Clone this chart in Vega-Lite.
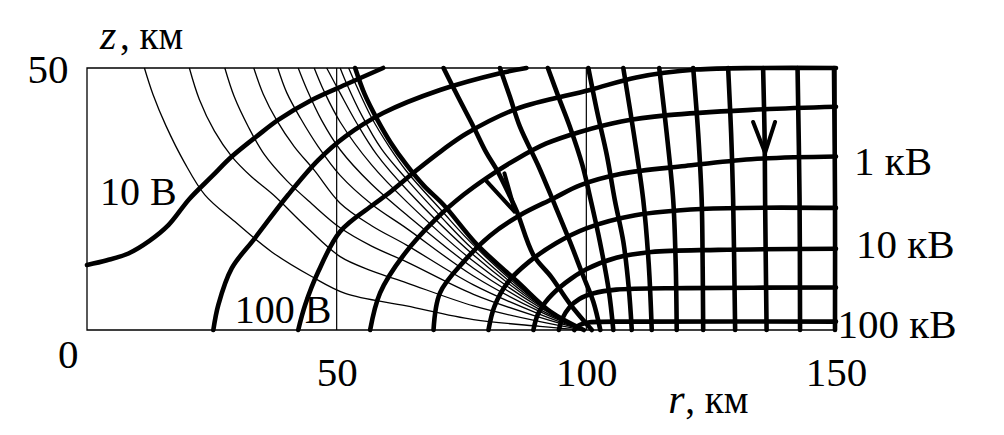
{
"$schema":"https://vega.github.io/schema/vega-lite/v6.json",
"width":749,"height":262,
"autosize":"none",
"padding":{"left":87,"top":68,"right":168,"bottom":105},
"background":"white",
"config":{"view":{"stroke":null},"axis":{"grid":false}},
"datasets":{
"L":[
{"id":"A1","k":"thin","i":1,"r":11.5,"z":50},{"id":"A1","k":"thin","i":2,"r":13.2,"z":45},{"id":"A1","k":"thin","i":3,"r":15.8,"z":39},{"id":"A1","k":"thin","i":4,"r":19.5,"z":32},{"id":"A1","k":"thin","i":5,"r":23.6,"z":25.8},{"id":"A1","k":"thin","i":6,"r":29.6,"z":20.7},{"id":"A1","k":"thin","i":7,"r":37,"z":14.9},{"id":"A1","k":"thin","i":8,"r":45,"z":10.2},{"id":"A1","k":"thin","i":9,"r":51.7,"z":7.0},{"id":"A1","k":"thin","i":10,"r":64,"z":4.6},{"id":"A1","k":"thin","i":11,"r":77.4,"z":2.0},{"id":"A1","k":"thin","i":12,"r":90.7,"z":0.7},{"id":"A1","k":"thin","i":13,"r":99.5,"z":0},
{"id":"A2","k":"thin","i":1,"r":20.5,"z":50},{"id":"A2","k":"thin","i":2,"r":22.5,"z":44},{"id":"A2","k":"thin","i":3,"r":25.5,"z":38},{"id":"A2","k":"thin","i":4,"r":29,"z":33.1},{"id":"A2","k":"thin","i":5,"r":33,"z":29.2},{"id":"A2","k":"thin","i":6,"r":37.3,"z":25.8},{"id":"A2","k":"thin","i":7,"r":44,"z":19.6},{"id":"A2","k":"thin","i":8,"r":50.7,"z":14.0},{"id":"A2","k":"thin","i":9,"r":57,"z":11.3},{"id":"A2","k":"thin","i":10,"r":64,"z":9.0},{"id":"A2","k":"thin","i":11,"r":77.4,"z":4.6},{"id":"A2","k":"thin","i":12,"r":90.7,"z":1.6},{"id":"A2","k":"thin","i":13,"r":99.5,"z":0},
{"id":"A3","k":"thin","i":1,"r":27.6,"z":50},{"id":"A3","k":"thin","i":2,"r":29.5,"z":44.5},{"id":"A3","k":"thin","i":3,"r":32.3,"z":38.8},{"id":"A3","k":"thin","i":4,"r":35.5,"z":33.5},{"id":"A3","k":"thin","i":5,"r":40,"z":28.5},{"id":"A3","k":"thin","i":6,"r":45,"z":24.1},{"id":"A3","k":"thin","i":7,"r":50.7,"z":19.5},{"id":"A3","k":"thin","i":8,"r":57,"z":16.0},{"id":"A3","k":"thin","i":9,"r":64,"z":13.0},{"id":"A3","k":"thin","i":10,"r":77.4,"z":6.8},{"id":"A3","k":"thin","i":11,"r":90.7,"z":2.4},{"id":"A3","k":"thin","i":12,"r":99.5,"z":0},
{"id":"A4","k":"thin","i":1,"r":33.4,"z":50},{"id":"A4","k":"thin","i":2,"r":35.3,"z":45},{"id":"A4","k":"thin","i":3,"r":38,"z":40},{"id":"A4","k":"thin","i":4,"r":41.5,"z":35},{"id":"A4","k":"thin","i":5,"r":45.5,"z":30.5},{"id":"A4","k":"thin","i":6,"r":50.7,"z":24.2},{"id":"A4","k":"thin","i":7,"r":57,"z":19.9},{"id":"A4","k":"thin","i":8,"r":64,"z":16.2},{"id":"A4","k":"thin","i":9,"r":77.4,"z":8.6},{"id":"A4","k":"thin","i":10,"r":90.7,"z":3.0},{"id":"A4","k":"thin","i":11,"r":99.5,"z":0},
{"id":"A5","k":"thin","i":1,"r":38.2,"z":50},{"id":"A5","k":"thin","i":2,"r":40,"z":45.3},{"id":"A5","k":"thin","i":3,"r":42.7,"z":40.5},{"id":"A5","k":"thin","i":4,"r":46.3,"z":35},{"id":"A5","k":"thin","i":5,"r":50.7,"z":29.5},{"id":"A5","k":"thin","i":6,"r":57,"z":24},{"id":"A5","k":"thin","i":7,"r":64,"z":19.4},{"id":"A5","k":"thin","i":8,"r":77.4,"z":10.3},{"id":"A5","k":"thin","i":9,"r":90.7,"z":3.5},{"id":"A5","k":"thin","i":10,"r":99.5,"z":0},
{"id":"A6","k":"thin","i":1,"r":42.3,"z":50},{"id":"A6","k":"thin","i":2,"r":44,"z":46},{"id":"A6","k":"thin","i":3,"r":47,"z":40},{"id":"A6","k":"thin","i":4,"r":50.7,"z":34.4},{"id":"A6","k":"thin","i":5,"r":57,"z":27.8},{"id":"A6","k":"thin","i":6,"r":64,"z":22.0},{"id":"A6","k":"thin","i":7,"r":77.4,"z":11.8},{"id":"A6","k":"thin","i":8,"r":90.7,"z":3.9},{"id":"A6","k":"thin","i":9,"r":99.5,"z":0},
{"id":"A7","k":"thin","i":1,"r":45.5,"z":50},{"id":"A7","k":"thin","i":2,"r":47.5,"z":45.5},{"id":"A7","k":"thin","i":3,"r":50.7,"z":39.7},{"id":"A7","k":"thin","i":4,"r":57,"z":31.5},{"id":"A7","k":"thin","i":5,"r":64,"z":24.5},{"id":"A7","k":"thin","i":6,"r":77.4,"z":13.1},{"id":"A7","k":"thin","i":7,"r":90.7,"z":4.3},{"id":"A7","k":"thin","i":8,"r":99.5,"z":0},
{"id":"A8","k":"thin","i":1,"r":48.0,"z":50},{"id":"A8","k":"thin","i":2,"r":50.7,"z":45.2},{"id":"A8","k":"thin","i":3,"r":54,"z":39.5},{"id":"A8","k":"thin","i":4,"r":58,"z":33.5},{"id":"A8","k":"thin","i":5,"r":64,"z":26.8},{"id":"A8","k":"thin","i":6,"r":77.4,"z":14.3},{"id":"A8","k":"thin","i":7,"r":90.7,"z":4.6},{"id":"A8","k":"thin","i":8,"r":99.5,"z":0},
{"id":"A9","k":"thin","i":1,"r":50.7,"z":50},{"id":"A9","k":"thin","i":2,"r":52,"z":47},{"id":"A9","k":"thin","i":3,"r":55,"z":41},{"id":"A9","k":"thin","i":4,"r":59,"z":34.5},{"id":"A9","k":"thin","i":5,"r":64,"z":28.8},{"id":"A9","k":"thin","i":6,"r":71,"z":21.5},{"id":"A9","k":"thin","i":7,"r":77.4,"z":15.3},{"id":"A9","k":"thin","i":8,"r":90.7,"z":4.85},{"id":"A9","k":"thin","i":9,"r":99.5,"z":0},
{"id":"A10","k":"thin","i":1,"r":52.4,"z":50},{"id":"A10","k":"thin","i":2,"r":54,"z":46.5},{"id":"A10","k":"thin","i":3,"r":57,"z":40.5},{"id":"A10","k":"thin","i":4,"r":60.5,"z":35},{"id":"A10","k":"thin","i":5,"r":64,"z":30.3},{"id":"A10","k":"thin","i":6,"r":71,"z":22.8},{"id":"A10","k":"thin","i":7,"r":77.4,"z":16.2},{"id":"A10","k":"thin","i":8,"r":90.7,"z":5.05},{"id":"A10","k":"thin","i":9,"r":99.5,"z":0},
{"id":"S","k":"thick","i":1,"r":53.7,"z":50},{"id":"S","k":"thick","i":2,"r":55.6,"z":45},{"id":"S","k":"thick","i":3,"r":58.0,"z":40.4},{"id":"S","k":"thick","i":4,"r":60.8,"z":35.8},{"id":"S","k":"thick","i":5,"r":64.0,"z":31.5},{"id":"S","k":"thick","i":6,"r":67.5,"z":27.5},{"id":"S","k":"thick","i":7,"r":71.4,"z":23.9},{"id":"S","k":"thick","i":8,"r":78.1,"z":16.3},{"id":"S","k":"thick","i":9,"r":86.1,"z":9.3},{"id":"S","k":"thick","i":10,"r":92.8,"z":3.5},{"id":"S","k":"thick","i":11,"r":99.5,"z":0},
{"id":"E0","k":"thick","i":1,"r":0,"z":12.4},{"id":"E0","k":"thick","i":2,"r":4,"z":13.3},{"id":"E0","k":"thick","i":3,"r":8.3,"z":14.6},{"id":"E0","k":"thick","i":4,"r":12.5,"z":17},{"id":"E0","k":"thick","i":5,"r":16.3,"z":20},{"id":"E0","k":"thick","i":6,"r":20.5,"z":25},{"id":"E0","k":"thick","i":7,"r":25,"z":29.3},{"id":"E0","k":"thick","i":8,"r":29,"z":33.1},{"id":"E0","k":"thick","i":9,"r":34.3,"z":37.2},{"id":"E0","k":"thick","i":10,"r":38.3,"z":40.1},{"id":"E0","k":"thick","i":11,"r":45,"z":43.9},{"id":"E0","k":"thick","i":12,"r":51.7,"z":46.8},{"id":"E0","k":"thick","i":13,"r":59.3,"z":50},
{"id":"E1","k":"thick","i":1,"r":25.3,"z":0},{"id":"E1","k":"thick","i":2,"r":26.3,"z":4.8},{"id":"E1","k":"thick","i":3,"r":29,"z":11.8},{"id":"E1","k":"thick","i":4,"r":33.6,"z":17.5},{"id":"E1","k":"thick","i":5,"r":40.3,"z":25.8},{"id":"E1","k":"thick","i":6,"r":46.3,"z":32.4},{"id":"E1","k":"thick","i":7,"r":51.7,"z":36.9},{"id":"E1","k":"thick","i":8,"r":59.3,"z":41.4},{"id":"E1","k":"thick","i":9,"r":70.7,"z":45.8},{"id":"E1","k":"thick","i":10,"r":82.7,"z":49},{"id":"E1","k":"thick","i":11,"r":88,"z":50},
{"id":"E2","k":"thick","i":1,"r":42.3,"z":0},{"id":"E2","k":"thick","i":2,"r":43.7,"z":4.8},{"id":"E2","k":"thick","i":3,"r":46.3,"z":11.1},{"id":"E2","k":"thick","i":4,"r":50.7,"z":18.8},{"id":"E2","k":"thick","i":5,"r":57.3,"z":23.9},{"id":"E2","k":"thick","i":6,"r":60,"z":25.8},{"id":"E2","k":"thick","i":7,"r":66,"z":30.5},{"id":"E2","k":"thick","i":8,"r":71,"z":34.2},{"id":"E2","k":"thick","i":9,"r":76,"z":37.5},{"id":"E2","k":"thick","i":10,"r":86,"z":42.2},{"id":"E2","k":"thick","i":11,"r":100.7,"z":45.8},{"id":"E2","k":"thick","i":12,"r":110,"z":48.2},{"id":"E2","k":"thick","i":13,"r":122,"z":49.7},{"id":"E2","k":"thick","i":14,"r":135,"z":50},{"id":"E2","k":"thick","i":15,"r":150,"z":50},
{"id":"E3","k":"thick","i":1,"r":56.7,"z":0},{"id":"E3","k":"thick","i":2,"r":58.7,"z":7.1},{"id":"E3","k":"thick","i":3,"r":63.4,"z":14.3},{"id":"E3","k":"thick","i":4,"r":70,"z":21.3},{"id":"E3","k":"thick","i":5,"r":75.4,"z":25.8},{"id":"E3","k":"thick","i":6,"r":80,"z":29},{"id":"E3","k":"thick","i":7,"r":86,"z":32.6},{"id":"E3","k":"thick","i":8,"r":92,"z":35.6},{"id":"E3","k":"thick","i":9,"r":98.7,"z":37.8},{"id":"E3","k":"thick","i":10,"r":107,"z":39.8},{"id":"E3","k":"thick","i":11,"r":116.4,"z":41},{"id":"E3","k":"thick","i":12,"r":133,"z":42},{"id":"E3","k":"thick","i":13,"r":150,"z":42.6},
{"id":"E4","k":"thick","i":1,"r":69.4,"z":0},{"id":"E4","k":"thick","i":2,"r":70.7,"z":7.1},{"id":"E4","k":"thick","i":3,"r":75.4,"z":13.0},{"id":"E4","k":"thick","i":4,"r":80.7,"z":18.0},{"id":"E4","k":"thick","i":5,"r":86.7,"z":21.9},{"id":"E4","k":"thick","i":6,"r":93.4,"z":25.1},{"id":"E4","k":"thick","i":7,"r":98.7,"z":27.6},{"id":"E4","k":"thick","i":8,"r":107,"z":29.8},{"id":"E4","k":"thick","i":9,"r":119.8,"z":31.3},{"id":"E4","k":"thick","i":10,"r":133,"z":32.6},{"id":"E4","k":"thick","i":11,"r":150,"z":33.1},
{"id":"E5","k":"thick","i":1,"r":80.4,"z":0},{"id":"E5","k":"thick","i":2,"r":81.6,"z":4.5},{"id":"E5","k":"thick","i":3,"r":84.2,"z":9.0},{"id":"E5","k":"thick","i":4,"r":88.5,"z":13.0},{"id":"E5","k":"thick","i":5,"r":94,"z":16.6},{"id":"E5","k":"thick","i":6,"r":100,"z":19.4},{"id":"E5","k":"thick","i":7,"r":109.8,"z":21.9},{"id":"E5","k":"thick","i":8,"r":123,"z":23.1},{"id":"E5","k":"thick","i":9,"r":150,"z":23.3},
{"id":"E6","k":"thick","i":1,"r":89.4,"z":0},{"id":"E6","k":"thick","i":2,"r":90.3,"z":3.0},{"id":"E6","k":"thick","i":3,"r":92.4,"z":6.0},{"id":"E6","k":"thick","i":4,"r":95.8,"z":9.0},{"id":"E6","k":"thick","i":5,"r":100,"z":11.6},{"id":"E6","k":"thick","i":6,"r":106,"z":13.8},{"id":"E6","k":"thick","i":7,"r":113,"z":14.9},{"id":"E6","k":"thick","i":8,"r":126.4,"z":15.3},{"id":"E6","k":"thick","i":9,"r":150,"z":15.5},
{"id":"E7","k":"thick","i":1,"r":94.5,"z":0},{"id":"E7","k":"thick","i":2,"r":95.2,"z":2.2},{"id":"E7","k":"thick","i":3,"r":96.6,"z":4.3},{"id":"E7","k":"thick","i":4,"r":98.6,"z":5.9},{"id":"E7","k":"thick","i":5,"r":101.5,"z":7.0},{"id":"E7","k":"thick","i":6,"r":106,"z":7.7},{"id":"E7","k":"thick","i":7,"r":120,"z":8.0},{"id":"E7","k":"thick","i":8,"r":150,"z":8.1},
{"id":"E8","k":"thick","i":1,"r":97.6,"z":0},{"id":"E8","k":"thick","i":2,"r":98.2,"z":0.7},{"id":"E8","k":"thick","i":3,"r":99.3,"z":1.2},{"id":"E8","k":"thick","i":4,"r":101,"z":1.5},{"id":"E8","k":"thick","i":5,"r":110,"z":1.6},{"id":"E8","k":"thick","i":6,"r":150,"z":1.6},
{"id":"F1","k":"thick","i":1,"r":71.4,"z":50},{"id":"F1","k":"thick","i":2,"r":74.3,"z":44.5},{"id":"F1","k":"thick","i":3,"r":77.4,"z":38.8},{"id":"F1","k":"thick","i":4,"r":80,"z":33.8},{"id":"F1","k":"thick","i":5,"r":82.1,"z":30.5},{"id":"F1","k":"thick","i":6,"r":84.7,"z":25.5},{"id":"F1","k":"thick","i":7,"r":86.1,"z":22.6},{"id":"F1","k":"thick","i":8,"r":89.4,"z":14.3},{"id":"F1","k":"thick","i":9,"r":93,"z":10.1},{"id":"F1","k":"thick","i":10,"r":96.7,"z":5.0},{"id":"F1","k":"thick","i":11,"r":101.1,"z":0},
{"id":"F2","k":"thick","i":1,"r":82.7,"z":50},{"id":"F2","k":"thick","i":2,"r":84.7,"z":44.5},{"id":"F2","k":"thick","i":3,"r":86.7,"z":38.8},{"id":"F2","k":"thick","i":4,"r":90.4,"z":31.3},{"id":"F2","k":"thick","i":5,"r":93.5,"z":24.3},{"id":"F2","k":"thick","i":6,"r":96.7,"z":16.9},{"id":"F2","k":"thick","i":7,"r":99.3,"z":10.5},{"id":"F2","k":"thick","i":8,"r":101.4,"z":5.4},{"id":"F2","k":"thick","i":9,"r":102.8,"z":0},
{"id":"F3","k":"thick","i":1,"r":92.3,"z":50},{"id":"F3","k":"thick","i":2,"r":94.5,"z":44.3},{"id":"F3","k":"thick","i":3,"r":96.7,"z":38.8},{"id":"F3","k":"thick","i":4,"r":99.2,"z":31.5},{"id":"F3","k":"thick","i":5,"r":101,"z":24.3},{"id":"F3","k":"thick","i":6,"r":102.7,"z":16.9},{"id":"F3","k":"thick","i":7,"r":104.5,"z":7.5},{"id":"F3","k":"thick","i":8,"r":105.4,"z":0},
{"id":"F4","k":"thick","i":1,"r":100.4,"z":50},{"id":"F4","k":"thick","i":2,"r":102.2,"z":41.5},{"id":"F4","k":"thick","i":3,"r":104.1,"z":33.4},{"id":"F4","k":"thick","i":4,"r":105.7,"z":24.8},{"id":"F4","k":"thick","i":5,"r":107.4,"z":16.9},{"id":"F4","k":"thick","i":6,"r":108.5,"z":8},{"id":"F4","k":"thick","i":7,"r":109.1,"z":0},
{"id":"F5","k":"thick","i":1,"r":107.4,"z":50},{"id":"F5","k":"thick","i":2,"r":109.5,"z":37.5},{"id":"F5","k":"thick","i":3,"r":111.4,"z":24.8},{"id":"F5","k":"thick","i":4,"r":112.5,"z":12.5},{"id":"F5","k":"thick","i":5,"r":113.1,"z":0},
{"id":"F6","k":"thick","i":1,"r":114.6,"z":50},{"id":"F6","k":"thick","i":2,"r":116.1,"z":37.5},{"id":"F6","k":"thick","i":3,"r":117.4,"z":24.8},{"id":"F6","k":"thick","i":4,"r":117.9,"z":12.5},{"id":"F6","k":"thick","i":5,"r":118.1,"z":0},
{"id":"F7","k":"thick","i":1,"r":121.4,"z":50},{"id":"F7","k":"thick","i":2,"r":122.4,"z":37.5},{"id":"F7","k":"thick","i":3,"r":123.1,"z":24.8},{"id":"F7","k":"thick","i":4,"r":123.3,"z":12},{"id":"F7","k":"thick","i":5,"r":123.4,"z":0},
{"id":"F8","k":"thick","i":1,"r":128.4,"z":50},{"id":"F8","k":"thick","i":2,"r":129,"z":37.5},{"id":"F8","k":"thick","i":3,"r":129.4,"z":24.8},{"id":"F8","k":"thick","i":4,"r":129.8,"z":0},
{"id":"F9","k":"thick","i":1,"r":135.4,"z":50},{"id":"F9","k":"thick","i":2,"r":135.7,"z":37},{"id":"F9","k":"thick","i":3,"r":135.8,"z":24.8},{"id":"F9","k":"thick","i":4,"r":136.1,"z":0},
{"id":"F10","k":"thick","i":1,"r":142.3,"z":50},{"id":"F10","k":"thick","i":2,"r":142.7,"z":25},{"id":"F10","k":"thick","i":3,"r":142.8,"z":0},
{"id":"F11","k":"thick","i":1,"r":149.6,"z":50},{"id":"F11","k":"thick","i":2,"r":149.8,"z":25},{"id":"F11","k":"thick","i":3,"r":149.8,"z":0},
{"id":"R1","k":"arrow","i":1,"r":80.1,"z":28.3},{"id":"R1","k":"arrow","i":2,"r":85.8,"z":22.4},{"id":"R1","k":"arrow","i":3,"r":83.6,"z":29.9},
{"id":"R2","k":"arrow","i":1,"r":133.4,"z":39.7},{"id":"R2","k":"arrow","i":2,"r":135.8,"z":33.8},{"id":"R2","k":"arrow","i":3,"r":137.8,"z":39.7}
],
"T":[
{"g":"lab","t":"10 В","r":2.6,"z":23.9},
{"g":"lab","t":"100 В","r":29.6,"z":1.3},
{"g":"side","t":"1 кВ","r":153.6,"z":29.6},
{"g":"side","t":"10 кВ","r":154.0,"z":13.7},
{"g":"side","t":"100 кВ","r":150.3,"z":-1.5},
{"g":"var","t":"z","r":2.6,"z":53.6},
{"g":"unit","t":", км","r":6.6,"z":53.6},
{"g":"var","t":"r","r":116.4,"z":-15.8},
{"g":"unit","t":", км","r":119.8,"z":-15.8}
]
},
"encoding":{
"x":{"field":"r","type":"quantitative","scale":{"domain":[0,150],"nice":false,"zero":false},
"axis":{"values":[50,100,150],"domain":false,"ticks":false,"grid":false,"title":null,"labelFont":"Liberation Serif","labelFontSize":41,"labelColor":"black","labelPadding":23,"labelFlush":false,"labelOverlap":false}},
"y":{"field":"z","type":"quantitative","scale":{"domain":[0,50],"nice":false,"zero":false},
"axis":{"values":[0,50],"domain":false,"ticks":false,"grid":false,"title":null,"labelFont":"Liberation Serif","labelFontSize":41,"labelColor":"black","labelFlush":false,"labelOverlap":false,
"labelOffset":{"condition":{"test":"datum.value === 0","value":25},"value":2},
"labelPadding":{"condition":{"test":"datum.value === 0","value":9},"value":19}}}
},
"layer":[
{"data":{"values":[{"r":0,"r2":150,"z":0,"z2":50}]},
"mark":{"type":"rect","fill":"transparent","stroke":"black","strokeWidth":1.3},
"encoding":{"x2":{"field":"r2"},"y2":{"field":"z2"}}},
{"data":{"values":[{"r":50,"z":0,"z2":50},{"r":100,"z":0,"z2":50}]},
"mark":{"type":"rule","color":"black","strokeWidth":1.2},
"encoding":{"y2":{"field":"z2"}}},
{"data":{"name":"L"},"transform":[{"filter":"datum.k === 'thin'"}],
"mark":{"type":"line","interpolate":"catmull-rom","color":"black","strokeWidth":1.3},
"encoding":{"detail":{"field":"id"},"order":{"field":"i"}}},
{"data":{"name":"L"},"transform":[{"filter":"datum.k === 'thick'"}],
"mark":{"type":"line","interpolate":"catmull-rom","color":"black","strokeWidth":4.6,"strokeCap":"round"},
"encoding":{"detail":{"field":"id"},"order":{"field":"i"}}},
{"data":{"name":"L"},"transform":[{"filter":"datum.k === 'arrow'"}],
"mark":{"type":"line","interpolate":"linear","color":"black","strokeWidth":4,"strokeCap":"round","strokeJoin":"miter"},
"encoding":{"detail":{"field":"id"},"order":{"field":"i"}}},
{"data":{"name":"T"},"transform":[{"filter":"datum.g === 'lab'"}],
"mark":{"type":"text","font":"Liberation Serif","fontSize":40,"align":"left","baseline":"alphabetic","color":"black"},
"encoding":{"text":{"field":"t"}}},
{"data":{"name":"T"},"transform":[{"filter":"datum.g === 'side'"}],
"mark":{"type":"text","font":"Liberation Serif","fontSize":41,"align":"left","baseline":"alphabetic","color":"black"},
"encoding":{"text":{"field":"t"}}},
{"data":{"name":"T"},"transform":[{"filter":"datum.g === 'var'"}],
"mark":{"type":"text","font":"Liberation Serif","fontSize":42,"fontStyle":"italic","align":"left","baseline":"alphabetic","color":"black"},
"encoding":{"text":{"field":"t"}}},
{"data":{"name":"T"},"transform":[{"filter":"datum.g === 'unit'"}],
"mark":{"type":"text","font":"Liberation Serif","fontSize":39,"align":"left","baseline":"alphabetic","color":"black"},
"encoding":{"text":{"field":"t"}}}
]
}
